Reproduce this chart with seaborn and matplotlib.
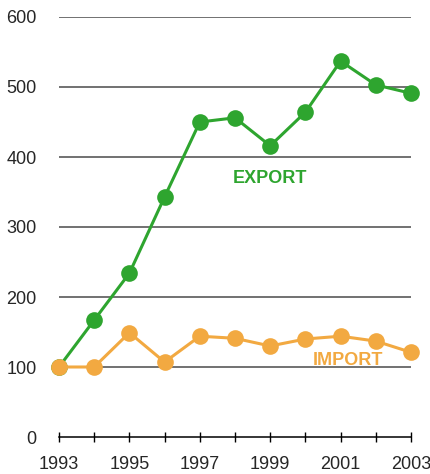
import matplotlib
matplotlib.use("Agg")
import matplotlib.pyplot as plt
import numpy as np
import pandas as pd
import seaborn as sns

anos = [1993, 1994, 1995, 1996, 1997, 1998, 1999, 2000, 2001, 2002, 2003]
export = [100, 167, 234, 343, 450, 456, 416, 464, 537, 503, 491]
importacao = [100, 100, 149, 107, 144, 141, 130, 140, 144, 137, 121]

verde = "#2ea52f"
laranja = "#f2a941"

sns.set_style("white")
plt.rcParams["font.family"] = ["Liberation Sans", "DejaVu Sans"]

fig = plt.figure(figsize=(4.30, 4.74), dpi=100)
ax = fig.add_axes([59 / 430, 37 / 474, 352 / 430, 420 / 474])

df = pd.DataFrame({"ano": anos, "export": export, "import": importacao})

# gridlines drawn by hand so they sit exactly on the axis width
for v in [100, 200, 300, 400, 500, 600]:
    ax.axhline(v, color="#4a4a4a", lw=1.1, zorder=1)

sns.lineplot(data=df, x="ano", y="export", color=verde, lw=2.2, marker="o",
             markersize=12, markeredgewidth=0, ax=ax, clip_on=False, zorder=3)
sns.lineplot(data=df, x="ano", y="import", color=laranja, lw=2.2, marker="o",
             markersize=12, markeredgewidth=0, ax=ax, clip_on=False, zorder=4)

ax.text(1999.0, 369, "EXPORT", color=verde, fontsize=13, fontweight="bold",
        ha="center", va="center")
ax.text(2001.2, 109, "IMPORT", color=laranja, fontsize=13, fontweight="bold",
        ha="center", va="center")

ax.set_xlim(1993, 2003)
ax.set_ylim(0, 600)
ax.set_xticks(anos)
ax.set_xticklabels([str(a) if (a - 1993) % 2 == 0 else "" for a in anos])
ax.set_yticks([0, 100, 200, 300, 400, 500, 600])
ax.set_xlabel("")
ax.set_ylabel("")

for lado in ["top", "right", "left"]:
    ax.spines[lado].set_visible(False)
ax.spines["bottom"].set_color("black")
ax.spines["bottom"].set_linewidth(1.1)

ax.tick_params(axis="x", direction="inout", length=7, width=1, color="black",
               labelsize=13, pad=10, bottom=True)
ax.tick_params(axis="y", length=0, labelsize=13, pad=16)
ax.set_facecolor("white")

fig.savefig("out.png", dpi=100, facecolor="white")
